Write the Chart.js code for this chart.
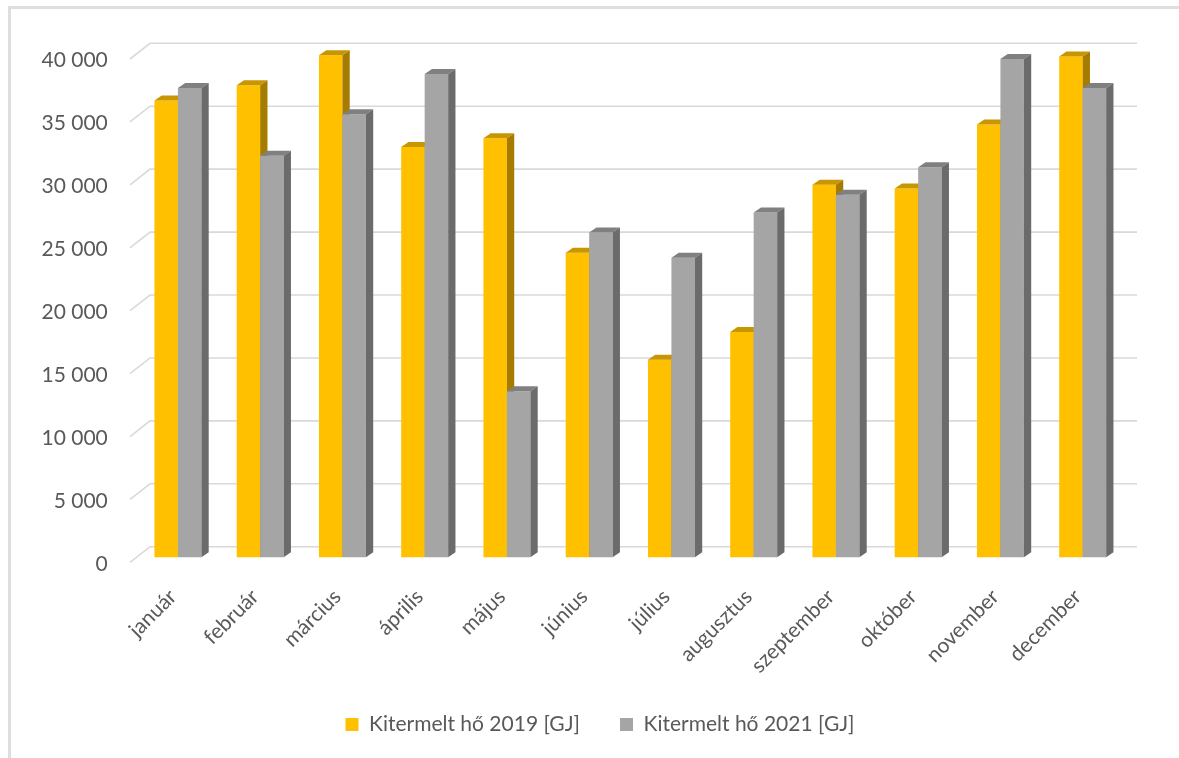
<!DOCTYPE html>
<html>
<head>
<meta charset="utf-8">
<script src="https://cdn.jsdelivr.net/npm/chart.js@4"></script>
<style>
html, body { margin: 0; padding: 0; background: #fff; overflow: hidden; }
#wrap { position: relative; width: 1179px; height: 758px; }
#frame { position: absolute; left: 8px; top: 6px; width: 1300px; height: 800px; border: 3px solid #dedede; box-sizing: border-box; }
canvas { position: absolute; left: 0; top: 0; }
</style>
</head>
<body>
<div id="wrap">
  <div id="frame"></div>
  <canvas id="heat-chart" width="1179" height="758"></canvas>
</div>
<script>
const months = ['január', 'február', 'március', 'április', 'május', 'június',
                'július', 'augusztus', 'szeptember', 'október', 'november', 'december'];
const heat2019 = [36300, 37500, 39900, 32600, 33300, 24200, 15700, 17900, 29600, 29300, 34400, 39800];
const heat2021 = [37300, 31900, 35200, 38400, 13200, 25800, 23800, 27400, 28800, 31000, 39600, 37300];
const seriesNames = ['Kitermelt hő 2019 [GJ]', 'Kitermelt hő 2021 [GJ]'];

// 3d look: bar depth and wall offset, in px
const DEPTH_X = 7.3, DEPTH_Y = -5;
const WALL_X = 13.2, WALL_Y = -10.6;
const faces = [
    { top: '#c89600', side: '#a67c00' },
    { top: '#808080', side: '#6b6b6b' }
];

const fmt = v => String(v).replace(/\B(?=(\d{3})+(?!\d))/g, ' ');

const bars3d = {
    id: 'bars3d',
    afterLayout(chart) {
        // legend sits centred under the whole picture, a bit higher than its box
        const lg = chart.legend;
        const dx = 600 - (lg.left + lg.right) / 2;
        lg.left += dx;
        lg.right += dx;
        lg.top -= 13;
        lg.bottom -= 13;
    },
    beforeDatasetsDraw(chart) {
        const { ctx, chartArea: a, scales: { y } } = chart;
        ctx.save();
        ctx.strokeStyle = '#d9d9d9';
        ctx.lineWidth = 1.6;
        y.ticks.forEach(t => {
            const yb = y.getPixelForValue(t.value) + WALL_Y;
            ctx.beginPath();
            ctx.moveTo(a.left - 6.8, yb + 15.7);
            ctx.lineTo(a.left + WALL_X, yb);
            ctx.lineTo(a.right + WALL_X, yb);
            ctx.stroke();
        });
        ctx.restore();
    },
    beforeDatasetDraw() {
        return false;
    },
    afterDatasetsDraw(chart) {
        const ctx = chart.ctx;
        chart.data.datasets.forEach((ds, di) => {
            const meta = chart.getDatasetMeta(di);
            meta.data.forEach(bar => {
                bar.draw(ctx);
                const l = bar.x - bar.width / 2, r = bar.x + bar.width / 2;
                ctx.save();
                ctx.fillStyle = faces[di].top;
                ctx.beginPath();
                ctx.moveTo(l, bar.y);
                ctx.lineTo(l + DEPTH_X, bar.y + DEPTH_Y);
                ctx.lineTo(r + DEPTH_X, bar.y + DEPTH_Y);
                ctx.lineTo(r, bar.y);
                ctx.closePath();
                ctx.fill();
                ctx.fillStyle = faces[di].side;
                ctx.beginPath();
                ctx.moveTo(r, bar.y);
                ctx.lineTo(r + DEPTH_X, bar.y + DEPTH_Y);
                ctx.lineTo(r + DEPTH_X, bar.base + DEPTH_Y);
                ctx.lineTo(r, bar.base);
                ctx.closePath();
                ctx.fill();
                ctx.restore();
            });
        });
    }
};

Chart.defaults.font.family = 'Lato';
Chart.defaults.font.size = 21;
Chart.defaults.color = '#595959';

new Chart(document.getElementById('heat-chart'), {
    type: 'bar',
    data: {
        labels: months,
        datasets: [{
            label: seriesNames[0],
            data: heat2019,
            backgroundColor: '#ffc000',
            borderWidth: 0
        }, {
            label: seriesNames[1],
            data: heat2021,
            backgroundColor: '#a5a5a5',
            borderWidth: 0
        }]
    },
    options: {
        responsive: false,
        animation: false,
        categoryPercentage: 0.571,
        barPercentage: 1,
        layout: {
            padding: { left: 0, right: 55.2, top: 53.9, bottom: 0 }
        },
        plugins: {
            legend: {
                position: 'bottom',
                labels: {
                    boxWidth: 13,
                    boxHeight: 13,
                    padding: 40
                }
            },
            tooltip: { enabled: false }
        },
        scales: {
            x: {
                grid: { display: false },
                border: { display: false },
                ticks: {
                    autoSkip: false,
                    minRotation: 45,
                    maxRotation: 45,
                    padding: 19,
                    labelOffset: -5
                },
                afterFit: s => { s.height = 129.7; }
            },
            y: {
                min: 0,
                max: 40000,
                grid: { display: false },
                border: { display: false },
                ticks: {
                    stepSize: 5000,
                    padding: 21,
                    labelOffset: 6.5,
                    callback: v => fmt(v)
                },
                afterFit: s => { s.width = 136.8; }
            }
        }
    },
    plugins: [bars3d]
});
</script>
</body>
</html>
